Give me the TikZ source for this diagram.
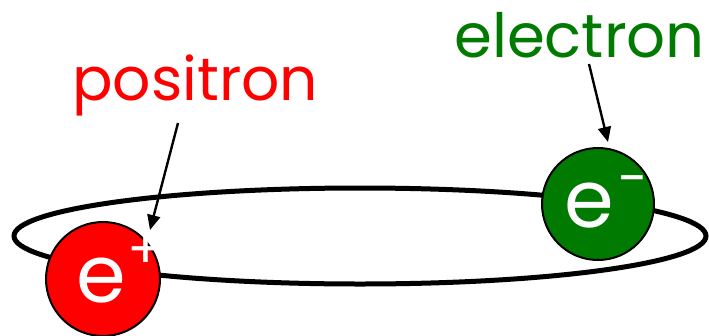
\documentclass[tikz,border=0pt]{standalone}
\usepackage{fontspec}
\setmainfont{Poppins}
\usetikzlibrary{arrows.meta,shapes.geometric}
\definecolor{posred}{RGB}{255,0,0}
\definecolor{elgreen}{RGB}{0,122,0}
\tikzset{
  orbit/.style={ellipse, line width=5pt, draw=black, minimum width=692pt, minimum height=96pt, inner sep=0pt},
  particle/.style={circle, draw=black, line width=2pt, minimum size=114pt, inner sep=0pt},
  pointer/.style={line width=2.4pt, -{Triangle[length=15pt,width=13pt]}},
  lbl/.style={anchor=base west, inner sep=0pt},
  sym/.style={text=white, inner sep=0pt, font=\fontsize{80}{80}\selectfont},
  chg/.style={text=white, inner sep=0pt, font=\fontsize{54}{54}\selectfont}
}
\begin{document}
\begin{tikzpicture}[x=1pt,y=-1pt]
\useasboundingbox (0,0) rectangle (709,335);
\node[orbit] (orb) at (360,236) {};
\node[particle, fill=posred] (pos) at (103,279) {};
\node[particle, fill=elgreen, minimum size=112pt] (ele) at (598,204) {};
\node[sym, anchor=base west] (pe) at (76,302) {e};
\node[chg, anchor=base west] (pp) at (127,268) {+};
\node[sym, anchor=base west] (ee) at (564,227) {e};
\node[chg, anchor=base west] (em) at (617,197) {\char"2212};
\node[lbl, text=posred, font=\fontsize{60}{60}\selectfont] (plab) at (72,100) {positron};
\node[lbl, text=elgreen, font=\fontsize{61}{61}\selectfont] (elab) at (454,57) {electron};
\coordinate (pstart) at (178,123);
\coordinate (ptip) at (150,230);
\coordinate (estart) at (589,64);
\coordinate (etip) at (608,142);
\draw[pointer] (pstart) -- (ptip);
\draw[pointer] (estart) -- (etip);
\end{tikzpicture}
\end{document}
